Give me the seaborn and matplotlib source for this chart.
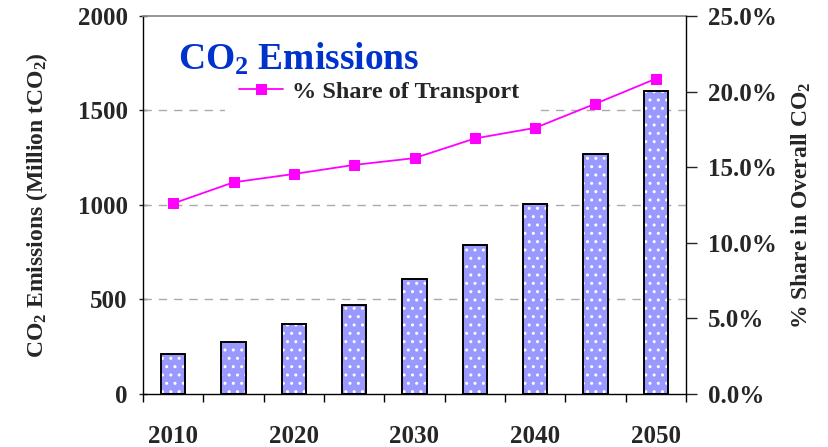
"""
CO2 emissions of transport with its share in overall CO2 (bar + line, twin axes).
"""

import numpy as np
import pandas as pd
import matplotlib
matplotlib.use("Agg")
import matplotlib.pyplot as plt
import seaborn as sns
from matplotlib.ticker import FuncFormatter, FixedLocator

# ---- data ----
years = [2010, 2015, 2020, 2025, 2030, 2035, 2040, 2045, 2050]
emissions = [212, 275, 370, 470, 608, 788, 1005, 1270, 1603]  # Million tCO2
transport_share = [12.6, 14.0, 14.55, 15.15, 15.6, 16.9, 17.6, 19.2, 20.85]  # %
label_years = [2010, 2020, 2030, 2040, 2050]

BAR_COLOR = "#9999FF"
TITLE_COLOR = "#0033CC"
LINE_COLOR = "#FF00FF"

sns.set_theme(style="ticks")
plt.rcParams["font.family"] = ["Liberation Serif", "DejaVu Serif"]
plt.rcParams["font.weight"] = "bold"
plt.rcParams["mathtext.fontset"] = "custom"
plt.rcParams["mathtext.rm"] = "Liberation Serif:bold"
plt.rcParams["mathtext.it"] = "Liberation Serif:bold"
plt.rcParams["mathtext.bf"] = "Liberation Serif:bold"
plt.rcParams["mathtext.default"] = "rm"
plt.rcParams["hatch.linewidth"] = 1.0

df = pd.DataFrame({"Year": [str(y) for y in years], "Emissions": emissions})

fig = plt.figure(figsize=(8.29, 4.47), dpi=100)
ax = fig.add_axes([0.1725, 0.1186, 0.655, 0.8456])

# filled bars with white dot pattern
sns.barplot(data=df, x="Year", y="Emissions", color=BAR_COLOR, width=0.4,
            saturation=1, ax=ax, zorder=2)
for p in ax.patches:
    p.set_facecolor(BAR_COLOR)
    p.set_edgecolor("white")
    p.set_hatch("..")
    p.set_linewidth(0)
# black outline on top
sns.barplot(data=df, x="Year", y="Emissions", fill=False, width=0.4,
            edgecolor="black", linewidth=1.4, ax=ax, zorder=3)

ax.set_xlim(-0.5, len(years) - 0.5)
ax.set_ylim(0, 2000)
ax.set_yticks([0, 500, 1000, 1500, 2000])
for v in [500, 1000, 1500]:
    ax.axhline(v, color="#AAAAAA", linestyle=(0, (6, 5)), linewidth=1, zorder=1)

ax.set_xticks([years.index(y) for y in label_years])
ax.set_xticklabels([str(y) for y in label_years])
ax.xaxis.set_minor_locator(FixedLocator(np.arange(-0.5, len(years), 1.0)))
ax.tick_params(axis="x", which="major", length=0, pad=22, labelsize=18)
ax.tick_params(axis="x", which="minor", length=6, width=1, direction="out", color="black")
ax.tick_params(axis="y", length=6, width=1, direction="inout", labelsize=18, pad=8)
ax.set_xlabel("")
ax.set_ylabel("CO$_2$ Emissions (Million tCO$_2$)", fontsize=17, fontweight="bold", labelpad=20)

for side in ["left", "bottom"]:
    ax.spines[side].set_color("black")
    ax.spines[side].set_linewidth(1)
ax.spines["top"].set_color("#888888")
ax.spines["right"].set_visible(False)

# share of transport on the right axis
ax2 = ax.twinx()
sns.lineplot(x=np.arange(len(years)), y=transport_share, color=LINE_COLOR, marker="s",
             markersize=7, markeredgecolor=LINE_COLOR, linewidth=1.3,
             label="% Share of Transport", ax=ax2)
ax2.set_ylim(0, 25)
ax2.set_yticks([0, 5, 10, 15, 20, 25])
ax2.yaxis.set_major_formatter(FuncFormatter(lambda v, _: f"{v:.1f}%"))
ax2.tick_params(axis="y", length=8, width=1, direction="out", labelsize=18, pad=8)
ax2.set_ylabel("% Share in Overall CO$_2$", fontsize=17, fontweight="bold", labelpad=9)
ax2.spines["right"].set_color("black")
ax2.spines["right"].set_linewidth(1)
for side in ["top", "left", "bottom"]:
    ax2.spines[side].set_visible(False)

leg = ax2.legend(loc="center", bbox_to_anchor=(0.435, 0.80), frameon=True,
                 prop={"weight": "bold", "size": 17.5}, handlelength=1.8,
                 borderpad=0.6, borderaxespad=0, handletextpad=0.35)
leg.get_frame().set_facecolor("white")
leg.get_frame().set_edgecolor("none")
leg.get_frame().set_alpha(1)

ax2.text(0.287, 0.885, "CO$_2$ Emissions", transform=ax2.transAxes, ha="center", va="center",
         fontsize=27, fontweight="bold", color=TITLE_COLOR, zorder=10)

fig.savefig("out.png", dpi=100)
